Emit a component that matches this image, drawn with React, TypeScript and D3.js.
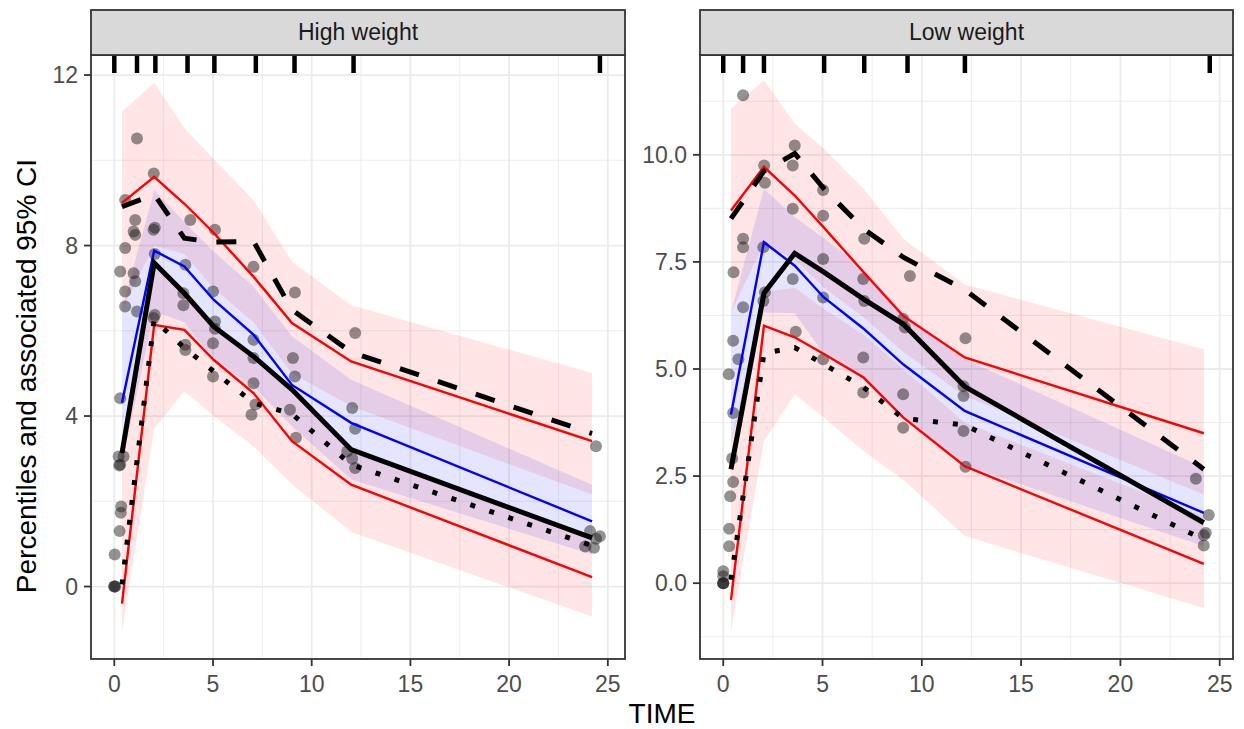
import * as d3 from "d3";

const FONT = "'Liberation Sans', Arial, sans-serif";

// bin midpoints (time) used by the percentile lines and ribbons
const binsHigh = [0.39, 2.02, 3.55, 5.03, 7.05, 9.0, 12.0, 24.2];
const binsLow = [0.39, 2.05, 3.6, 5.07, 7.07, 9.06, 12.16, 24.2];

// High weight: simulated percentiles (median of sims) and 95% CI ribbons
const hiUpperCIHigh = [11.14, 11.82, 10.76, 10.03, 9.07, 7.62, 6.6, 5.01];
const loUpperCIHigh = [6.49, 8.0, 7.8, 7.0, 6.2, 5.0, 4.23, 2.16];
const hiMedCIHigh = [6.49, 9.3, 8.55, 7.86, 7.04, 5.87, 4.85, 2.39];
const loMedCIHigh = [2.9, 6.45, 6.2, 5.3, 4.7, 3.76, 2.51, 0.75];
const hiLowerCIHigh = [3.0, 7.6, 6.85, 6.1, 5.4, 4.55, 3.21, 1.18];
const loLowerCIHigh = [-1.05, 3.7, 4.58, 4.0, 3.29, 2.4, 1.28, -0.7];
const simP95High = [9.0, 9.61, 8.98, 8.3, 7.27, 6.18, 5.28, 3.41];
const simP50High = [4.31, 7.88, 7.51, 6.73, 5.91, 4.73, 3.84, 1.53];
const simP05High = [-0.4, 6.14, 6.02, 5.32, 4.54, 3.41, 2.39, 0.22];
const obsP95High = [8.91, 9.2, 8.17, 8.08, 8.1, 6.49, 5.5, 3.59];
const obsP50High = [3.13, 7.59, 6.88, 6.1, 5.4, 4.62, 3.21, 1.14];
const obsP05High = [0.05, 6.26, 5.6, 5.05, 4.31, 4.05, 2.86, 0.96];

// Low weight
const hiUpperCILow = [11.08, 11.74, 10.73, 10.14, 9.21, 8.04, 6.97, 5.46];
const loUpperCILow = [6.32, 7.92, 7.55, 6.9, 6.2, 5.4, 4.37, 2.07];
const hiMedCILow = [6.32, 9.2, 8.55, 8.05, 7.34, 6.32, 5.23, 2.7];
const loMedCILow = [3.25, 6.32, 6.3, 5.35, 4.75, 3.9, 2.75, 0.86];
const hiLowerCILow = [3.3, 6.79, 6.9, 6.4, 5.8, 5.0, 3.75, 1.56];
const loLowerCILow = [-1.13, 3.32, 4.41, 3.87, 3.08, 2.42, 1.1, -0.58];
const simP95Low = [8.7, 9.72, 9.05, 8.3, 7.26, 6.24, 5.27, 3.5];
const simP50Low = [3.94, 7.96, 7.41, 6.67, 5.94, 5.11, 4.02, 1.64];
const simP05Low = [-0.39, 6.01, 5.74, 5.35, 4.8, 3.87, 2.73, 0.45];
const obsP95Low = [8.51, 9.62, 10.03, 9.21, 8.27, 7.61, 6.85, 2.66];
const obsP50Low = [2.66, 6.77, 7.7, 7.26, 6.63, 6.05, 4.59, 1.41];
const obsP05Low = [0.08, 5.37, 5.5, 5.11, 4.57, 3.85, 3.69, 1.02];

// observed data [time, value]
const obsHigh = [
  [0, 0], [0, 0], [0.05, 0], [0.02, 0.75],
  [0.27, 1.3], [0.33, 1.73], [0.35, 1.88], [0.25, 2.84], [0.3, 2.86], [0.47, 3.05], [0.22, 3.05], [0.3, 4.42],
  [0.55, 6.57], [0.55, 6.92], [0.55, 7.94], [0.55, 9.07], [0.3, 7.39],
  [1.15, 10.51], [1.06, 8.6], [0.98, 8.33], [1.06, 8.25], [0.98, 7.35], [1.06, 7.16], [1.15, 6.45],
  [2.0, 9.69], [1.99, 8.37], [2.05, 8.42], [2.05, 7.8], [2.05, 6.37], [2.0, 6.3],
  [3.85, 8.6], [3.6, 7.55], [3.5, 6.88], [3.5, 6.6], [3.6, 5.67], [3.6, 5.55],
  [5.1, 8.37], [5.0, 6.92], [5.1, 6.22], [5.1, 6.05], [5.0, 5.71], [5.0, 4.93],
  [7.05, 7.5], [7.05, 5.79], [7.05, 5.36], [7.05, 4.77], [7.15, 4.27], [6.95, 4.03],
  [9.15, 6.9], [9.05, 5.36], [9.15, 4.93], [8.9, 4.15], [9.2, 3.49],
  [12.2, 5.95], [12.05, 4.19], [12.2, 3.7], [11.8, 3.17], [12.05, 3.0], [12.2, 2.78],
  [24.4, 3.29], [24.1, 1.3], [24.6, 1.18], [24.4, 1.12], [23.85, 0.94], [24.3, 0.91],
];
const obsLow = [
  [0, 0], [0, 0], [0, 0], [0, 0.16], [0, 0.28],
  [0.3, 0.86], [0.3, 1.27], [0.35, 2.03], [0.5, 2.36], [0.45, 2.91], [0.5, 3.97], [0.28, 4.88], [0.5, 5.66], [0.76, 5.23], [0.52, 7.26],
  [1.0, 11.39], [1.0, 8.04], [1.0, 7.84], [1.0, 6.44],
  [2.06, 9.75], [2.1, 9.35], [2.02, 7.84], [2.1, 6.79], [2.02, 6.59],
  [3.6, 10.22], [3.5, 9.75], [3.5, 8.74], [3.5, 7.1], [3.65, 5.87],
  [5.03, 9.18], [5.03, 8.58], [5.03, 7.57], [5.03, 6.67], [5.03, 5.23],
  [7.1, 8.04], [7.05, 7.1], [7.1, 6.59], [7.05, 5.27], [7.05, 4.45],
  [9.4, 7.17], [9.06, 6.17], [9.15, 5.97], [9.06, 4.41], [9.06, 3.63],
  [12.2, 5.72], [12.1, 4.6], [12.1, 4.37], [12.1, 3.55], [12.2, 2.72],
  [23.8, 2.44], [24.45, 1.59], [24.3, 1.17], [24.2, 1.12], [24.2, 0.88],
];

// bin boundaries shown as a rug on top
const rugHigh = [0, 1.15, 2.08, 3.71, 5.07, 7.17, 9.13, 12.12, 24.6];
const rugLow = [0, 1.0, 2.05, 5.08, 7.1, 9.28, 12.17, 24.5];

const xTicks = [0, 5, 10, 15, 20, 25];
const yTicksHigh = [0, 4, 8, 12];
const yTicksLow = [0, 2.5, 5, 7.5, 10];

const TOP = 55;
const BOTTOM = 659;

function Panel({ x0, x1, title, xDomain, yDomain, yTicks, yFmt, bins, ci, sim, obsLines, obs, rug, id }) {
  const x = d3.scaleLinear().domain(xDomain).range([x0, x1]);
  const y = d3.scaleLinear().domain(yDomain).range([BOTTOM, TOP]);

  const xMinor = xTicks.slice(0, -1).map((t) => t + 2.5).filter((t) => t < xDomain[1]);
  const step = yTicks[1] - yTicks[0];
  const yMinor = d3
    .range(yTicks[0] - step / 2, yDomain[1], step)
    .filter((v) => v > yDomain[0] && v < yDomain[1]);

  const area = (lo, hi) =>
    d3
      .area()
      .x((d, i) => x(bins[i]))
      .y0((d, i) => y(lo[i]))
      .y1((d, i) => y(hi[i]))(bins);
  const line = (vals) =>
    d3
      .line()
      .x((d, i) => x(bins[i]))
      .y((d) => y(d))(vals);

  return (
    <g>
      <defs>
        <clipPath id={id}>
          <rect x={x0} y={TOP} width={x1 - x0} height={BOTTOM - TOP} />
        </clipPath>
      </defs>
      <rect x={x0} y={TOP} width={x1 - x0} height={BOTTOM - TOP} fill="white" />
      {yMinor.map((v) => (
        <line key={"ym" + v} x1={x0} x2={x1} y1={y(v)} y2={y(v)} stroke="#EBEBEB" strokeWidth={0.9} />
      ))}
      {xMinor.map((t) => (
        <line key={"xm" + t} x1={x(t)} x2={x(t)} y1={TOP} y2={BOTTOM} stroke="#EBEBEB" strokeWidth={0.9} />
      ))}
      {yTicks.map((v) => (
        <line key={"yg" + v} x1={x0} x2={x1} y1={y(v)} y2={y(v)} stroke="#EBEBEB" strokeWidth={1.8} />
      ))}
      {xTicks.map((t) => (
        <line key={"xg" + t} x1={x(t)} x2={x(t)} y1={TOP} y2={BOTTOM} stroke="#EBEBEB" strokeWidth={1.8} />
      ))}

      <g clipPath={`url(#${id})`}>
        <path d={area(ci[0], ci[1])} fill="red" fillOpacity={0.1} />
        <path d={area(ci[4], ci[5])} fill="red" fillOpacity={0.1} />
        <path d={area(ci[2], ci[3])} fill="blue" fillOpacity={0.1} />

        {obs.map((d, i) => (
          <circle key={i} cx={x(d[0])} cy={y(d[1])} r={6} fill="#1a1a1a" fillOpacity={0.47} />
        ))}

        <path d={line(sim[0])} fill="none" stroke="red" strokeWidth={2.4} />
        <path d={line(sim[2])} fill="none" stroke="red" strokeWidth={2.4} />
        <path d={line(sim[1])} fill="none" stroke="blue" strokeWidth={2.4} />

        <path d={line(obsLines[0])} fill="none" stroke="black" strokeWidth={5} strokeDasharray="20 20" />
        <path d={line(obsLines[1])} fill="none" stroke="black" strokeWidth={5} />
        <path d={line(obsLines[2])} fill="none" stroke="black" strokeWidth={5} strokeDasharray="5 15" />

        {rug.map((t, i) => (
          <line key={"r" + i} x1={x(t)} x2={x(t)} y1={TOP} y2={TOP + 18} stroke="black" strokeWidth={4.5} />
        ))}
      </g>

      <rect x={x0} y={TOP} width={x1 - x0} height={BOTTOM - TOP} fill="none" stroke="#333333" strokeWidth={1.8} />

      <rect x={x0} y={10} width={x1 - x0} height={TOP - 10} fill="#D9D9D9" stroke="#333333" strokeWidth={1.8} />
      <text x={(x0 + x1) / 2} y={40} textAnchor="middle" fontSize={23} fill="#1A1A1A" fontFamily={FONT}>
        {title}
      </text>

      {yTicks.map((v) => (
        <g key={"yt" + v}>
          <line x1={x0 - 7} x2={x0} y1={y(v)} y2={y(v)} stroke="#333333" strokeWidth={1.8} />
          <text x={x0 - 13} y={y(v) + 8} textAnchor="end" fontSize={23} fill="#4D4D4D" fontFamily={FONT}>
            {yFmt(v)}
          </text>
        </g>
      ))}
      {xTicks.map((t) => (
        <g key={"xt" + t}>
          <line x1={x(t)} x2={x(t)} y1={BOTTOM} y2={BOTTOM + 7} stroke="#333333" strokeWidth={1.8} />
          <text x={x(t)} y={692} textAnchor="middle" fontSize={23} fill="#4D4D4D" fontFamily={FONT}>
            {t}
          </text>
        </g>
      ))}
    </g>
  );
}

export default function App() {
  return (
    <svg width={1244} height={729} style={{ position: "absolute", left: 0, top: 0, background: "white" }}>
      <Panel
        id="clipHigh"
        x0={91}
        x1={625}
        title="High weight"
        xDomain={[-1.18, 25.87]}
        yDomain={[-1.7, 12.47]}
        yTicks={yTicksHigh}
        yFmt={(v) => String(v)}
        bins={binsHigh}
        ci={[loUpperCIHigh, hiUpperCIHigh, loMedCIHigh, hiMedCIHigh, loLowerCIHigh, hiLowerCIHigh]}
        sim={[simP95High, simP50High, simP05High]}
        obsLines={[obsP95High, obsP50High, obsP05High]}
        obs={obsHigh}
        rug={rugHigh}
      />
      <Panel
        id="clipLow"
        x0={700}
        x1={1233}
        title="Low weight"
        xDomain={[-1.17, 25.67]}
        yDomain={[-1.77, 12.33]}
        yTicks={yTicksLow}
        yFmt={(v) => d3.format(".1f")(v)}
        bins={binsLow}
        ci={[loUpperCILow, hiUpperCILow, loMedCILow, hiMedCILow, loLowerCILow, hiLowerCILow]}
        sim={[simP95Low, simP50Low, simP05Low]}
        obsLines={[obsP95Low, obsP50Low, obsP05Low]}
        obs={obsLow}
        rug={rugLow}
      />
      <text x={662} y={723} textAnchor="middle" fontSize={28} fill="black" fontFamily={FONT}>
        TIME
      </text>
      <text
        transform="translate(36,376) rotate(-90)"
        textAnchor="middle"
        fontSize={28}
        fill="black"
        fontFamily={FONT}
      >
        Percentiles and associated 95% CI
      </text>
    </svg>
  );
}
